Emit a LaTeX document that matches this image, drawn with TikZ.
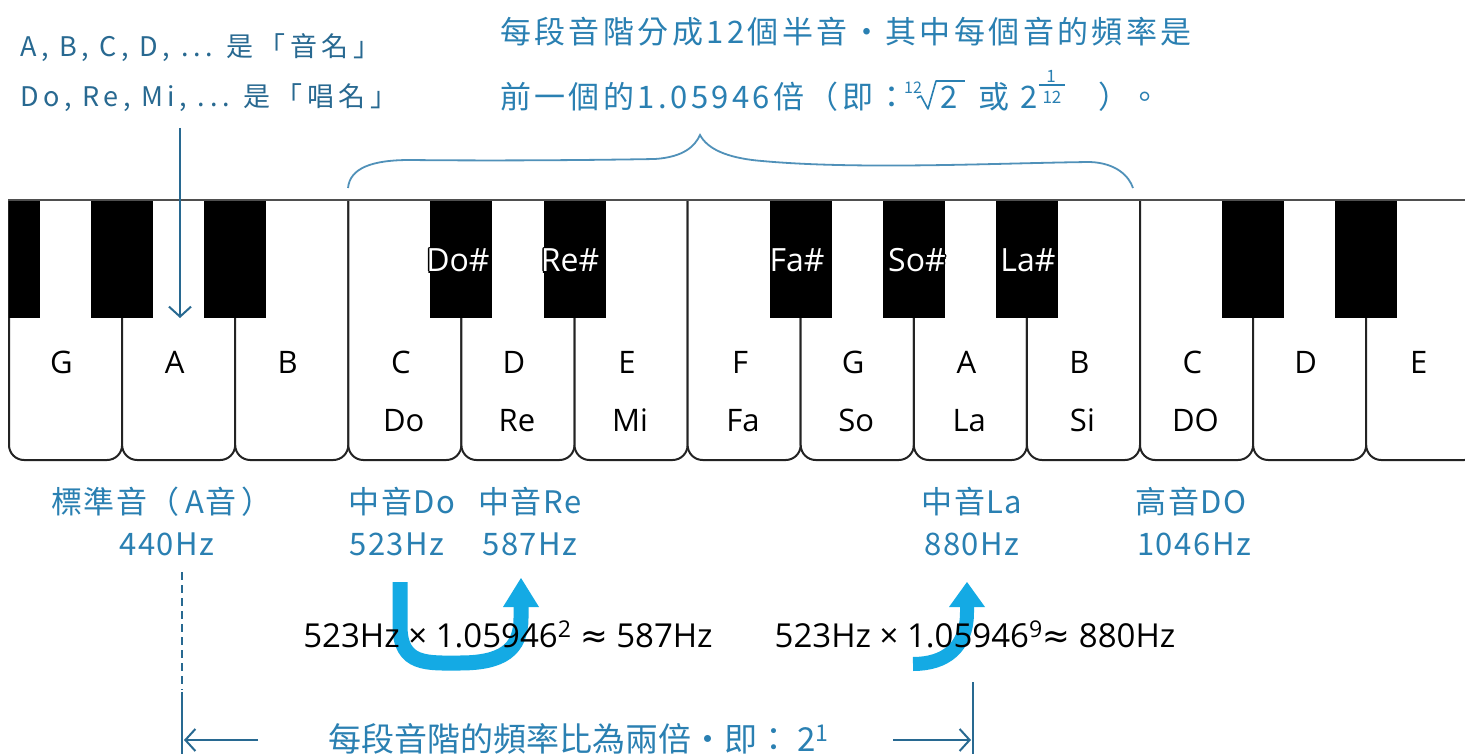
\documentclass[tikz,border=0pt]{standalone}
\usepackage{fontspec}
\setmainfont{Open Sans}
\newfontfamily\cjk{Noto Sans CJK TC}
\newfontfamily\cjkT{Noto Sans CJK TC}[LetterSpace=17]
\newfontfamily\cjkI{Noto Sans CJK TC}[LetterSpace=11]
\newfontfamily\cjkL{Noto Sans CJK TC}[LetterSpace=5]
\newfontfamily\dv{DejaVu Sans}
\usetikzlibrary{arrows.meta,calc}
\definecolor{dblue}{RGB}{40,105,145}
\definecolor{mblue}{RGB}{42,128,178}
\definecolor{braceblue}{RGB}{80,145,185}
\definecolor{cyanA}{RGB}{20,170,228}
\definecolor{keyline}{RGB}{35,35,35}
\newcommand{\fs}[1]{\fontsize{#1}{#1}\selectfont}
\newcommand{\sharplab}[3]{%
  \foreach \dx/\dy in {1.4/0,-1.4/0,0/1.4,0/-1.4,1/1,-1/1,1/-1,-1/-1}
    \node[blab,text=black,xshift=\dx pt,yshift=\dy pt] at (#2,272) {#3};
  \node[blab,text=white] (#1) at (#2,272) {#3};}
\begin{document}
\begin{tikzpicture}[x=1pt,y=-1pt,
  every node/.style={inner sep=0pt},
  wkey/.style={draw=keyline,line width=2pt,fill=white,rounded corners=15pt},
  bkey/.style={fill=black},
  klab/.style={font=\fs{31},text=black,anchor=base},
  blab/.style={font=\fs{32},anchor=base},
  toptxt/.style={font=\cjkT\fs{27},text=dblue,anchor=base west},
  infotxt/.style={font=\cjkI\fs{31},text=mblue,anchor=base west},
  infopart/.style={font=\cjk\fs{31},text=mblue,anchor=base west},
  small/.style={font=\cjk\fs{16},text=mblue},
  bl/.style={font=\cjkL\fs{31},text=mblue,anchor=base},
  fm/.style={font=\fs{33},text=black,anchor=base},
  pointer/.style={draw=dblue,line width=2pt,-{Straight Barb[length=10pt,width=22pt]}},
  bigarrow/.style={draw=cyanA,line width=15pt},
]
\useasboundingbox (0,0) rectangle (1465,754);
\clip (0,0) rectangle (1465,754);
\fill[white] (0,0) rectangle (1465,754);

% white keys
\foreach \k in {0,...,12}{
  \pgfmathsetmacro\xa{9+113.1*\k}
  \pgfmathsetmacro\xb{9+113.1*(\k+1)}
  \draw[wkey] (\xa,200) -- (\xa,460) -- (\xb,460) -- (\xb,200);
}
% black keys
\fill[bkey] (9,199) rectangle (40,318);
\foreach \k in {1,2,4,5,7,8,9,11,12}{
  \pgfmathsetmacro\xc{9+113.1*\k}
  \fill[bkey] (\xc-31,199) rectangle (\xc+31,318);
}
\draw[keyline!80!white,line width=2.5pt] (8,200) -- (1465,200);

% key names
\foreach \k/\t in {0/G,1/A,2/B,3/C,4/D,5/E,6/F,7/G,8/A,9/B,10/C,11/D,12/E}
  \node[klab] (L\k) at ({61.5+113.1*\k},373) {\t};
\foreach \k/\t in {3/Do,4/Re,5/Mi,6/Fa,7/So,8/La,9/Si,10/DO}
  \node[klab] (S\k) at ({64.5+113.1*\k},431) {\t};

% sharp labels
\sharplab{dos}{458}{Do\#}
\sharplab{res}{570}{Re\#}
\sharplab{fas}{797}{Fa\#}
\sharplab{sos}{917}{So\#}
\sharplab{las}{1028}{La\#}

% top-left note
\node[toptxt] (t1) at (20,57) {A, B, C, D, ... 是「音名」};
\node[toptxt] (t2) at (20,107) {Do, Re, Mi, ... 是「唱名」};
\coordinate (ptop) at (180,128);
\coordinate (pbot) at (180,318);
\draw[pointer] (ptop) -- (pbot);

% top-right note
\node[infotxt] (i1) at (500,44) {每段音階分成12個半音・其中每個音的頻率是};
\node[infotxt] (i2) at (500,109) {前一個的1.05946倍（即：};
\coordinate (R) at (i2.base east);
\node[small,anchor=base west] (idx) at ($(R)+(-4,-15)$) {12};
\draw[mblue,line width=1.6pt,line join=round] ($(R)+(9,-11)$) -- ($(R)+(13,-13)$) -- ($(R)+(20,0)$) -- ($(R)+(28,-28)$) -- ($(R)+(57,-28)$);
\node[infopart] (r2) at ($(R)+(32,0)$) {2};
\node[infopart] (huo) at ($(R)+(70,0)$) {或};
\node[infopart] (p2) at ($(R)+(112,0)$) {2};
\node[small,font=\cjk\fs{17}] (fn) at ($(R)+(143,-33)$) {1};
\draw[mblue,line width=1.3pt] ($(R)+(131,-24)$) -- ($(R)+(157,-24)$);
\node[small,font=\cjk\fs{17}] (fd) at ($(R)+(144,-12)$) {12};
\node[infopart] (cl) at ($(R)+(190,0)$) {）。};

% brace
\draw[braceblue,line width=1.8pt] (348,188) .. controls (350,168) and (372,160) .. (410,160)
  .. controls (500,161) and (600,160) .. (655,159)
  .. controls (684,157) and (695,146) .. (700,135)
  .. controls (707,148) and (725,158) .. (762,161)
  .. controls (860,170) and (1000,163) .. (1090,162)
  .. controls (1116,163) and (1129,176) .. (1133,188);

% bottom labels
\node[bl] (lA) at (162,513) {標準音（\,A音\,）};
\node[bl] (hA) at (167,555) {440Hz};
\node[bl] (lDo) at (402,513) {中音Do};
\node[bl] (hDo) at (397,555) {523Hz};
\node[bl] (lRe) at (530,513) {中音Re};
\node[bl] (hRe) at (530,555) {587Hz};
\node[bl] (lLa) at (972,513) {中音La};
\node[bl] (hLa) at (972,555) {880Hz};
\node[bl] (lDO) at (1191,513) {高音DO};
\node[bl] (hDO) at (1194,555) {1046Hz};

% cyan arrows
\draw[bigarrow] (400,582) -- (400,626) .. controls (400,666) and (428,663) .. (460,663)
  .. controls (502,663) and (521,650) .. (521,618) -- (521,606);
\fill[cyanA] (503,607) -- (539,607) -- (521,578) -- cycle;
\draw[bigarrow,line width=14pt] (913,664) .. controls (945,664) and (967,648) .. (967,612) -- (967,606);
\fill[cyanA] (949,607) -- (985,607) -- (967,582) -- cycle;

% formulas
\node[fm] (f1) at (508,647) {523Hz × 1.05946\textsuperscript{2} {\dv≈} 587Hz};
\node[fm] (f2) at (975,647) {523Hz × 1.05946\textsuperscript{9}{\dv≈} 880Hz};

% octave span
\draw[dblue,line width=1.8pt,dash pattern=on 8pt off 5pt] (182,572) -- (182,690);
\draw[dblue,line width=1.8pt] (182,692) -- (182,754);
\draw[dblue,line width=1.8pt] (973,682) -- (973,754);
\coordinate (la) at (258,740);
\coordinate (lb) at (184,740);
\coordinate (ra) at (893,740);
\coordinate (rb) at (971,740);
\draw[pointer] (la) -- (lb);
\draw[pointer] (ra) -- (rb);
\node[font=\cjk\fs{33},text=mblue,anchor=base west] (bt) at (328,751) {每段音階的頻率比為兩倍・即： 2\textsuperscript{1}};
\end{tikzpicture}
\end{document}
